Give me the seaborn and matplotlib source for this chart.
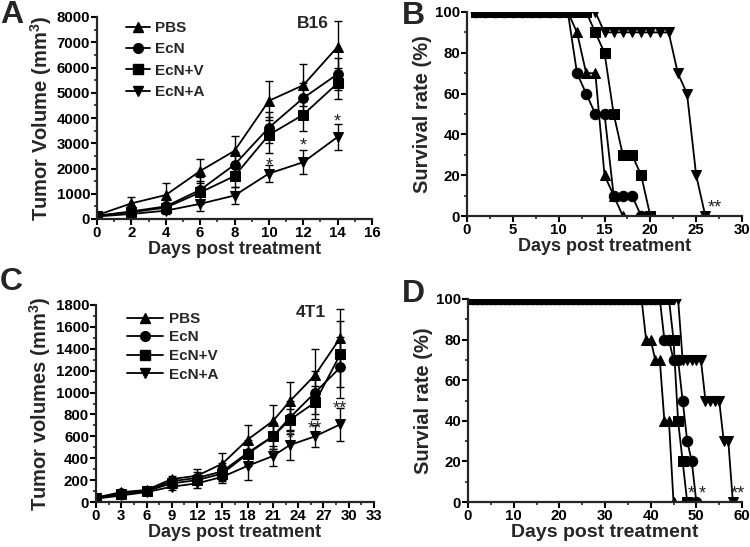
import pandas as pd
import seaborn as sns
import matplotlib.pyplot as plt
from matplotlib.lines import Line2D
from matplotlib.ticker import MultipleLocator

groups = ['PBS', 'EcN', 'EcN+V', 'EcN+A']
marks = {'PBS': '^', 'EcN': 'o', 'EcN+V': 's', 'EcN+A': 'v'}

# A: B16 tumor volume (mm3)
a_days = [0, 2, 4, 6, 8, 10, 12, 14]
a_pbs = [150, 620, 950, 1900, 2700, 4680, 5300, 6820]
a_pbs_err = [60, 240, 460, 460, 580, 770, 840, 1030]
a_ecn = [130, 300, 500, 1150, 2150, 3620, 4790, 5740]
a_ecn_err = [50, 120, 250, 500, 500, 600, 600, 620]
a_ecnv = [120, 270, 450, 1050, 1700, 3330, 4130, 5380]
a_ecnv_err = [40, 100, 200, 450, 450, 700, 650, 620]
a_ecna = [100, 200, 330, 600, 930, 1800, 2250, 3250]
a_ecna_err = [40, 100, 150, 300, 350, 320, 470, 500]
a_star_x = [10, 12, 14]
a_star_y = [2100, 2900, 3850]
a_star_txt = ['*', '*', '*']

# B: B16 survival (%)
b_pbs_days = [1, 2, 3, 4, 5, 6, 7, 8, 9, 10, 11, 12, 13, 14, 15, 16, 17]
b_pbs = [100, 100, 100, 100, 100, 100, 100, 100, 100, 100, 100, 90, 70, 70, 20, 10, 0]
b_ecn_days = [1, 2, 3, 4, 5, 6, 7, 8, 9, 10, 11, 12, 13, 14, 15, 16, 17, 18, 19]
b_ecn = [100, 100, 100, 100, 100, 100, 100, 100, 100, 100, 100, 70, 60, 50, 50, 10, 10, 10, 0]
b_ecnv_days = [1, 2, 3, 4, 5, 6, 7, 8, 9, 10, 11, 12, 13, 14, 15, 16, 17, 18, 19, 20]
b_ecnv = [100, 100, 100, 100, 100, 100, 100, 100, 100, 100, 100, 100, 100, 90, 80, 50, 30, 30, 20, 0]
b_ecna_days = [1, 2, 3, 4, 5, 6, 7, 8, 9, 10, 11, 12, 13, 14, 15, 16, 17, 18, 19, 20,
               21, 22, 23, 24, 25, 26]
b_ecna = [100, 100, 100, 100, 100, 100, 100, 100, 100, 100, 100, 100, 100, 100, 90, 90, 90, 90, 90, 90,
          90, 90, 70, 60, 20, 0]
b_star_x = [27.0]
b_star_y = [4]
b_star_txt = ['**']

# C: 4T1 tumor volume (mm3)
c_days = [0, 3, 6, 9, 12, 15, 18, 21, 23, 26, 29]
c_pbs = [40, 90, 110, 210, 240, 350, 570, 740, 920, 1160, 1500]
c_pbs_err = [10, 20, 20, 25, 60, 100, 135, 150, 175, 240, 260]
c_ecn = [40, 80, 100, 190, 220, 280, 450, 600, 770, 1000, 1230]
c_ecn_err = [10, 20, 20, 30, 50, 80, 120, 120, 150, 200, 280]
c_ecnv = [40, 70, 100, 170, 200, 260, 440, 600, 750, 910, 1350]
c_ecnv_err = [10, 20, 20, 30, 40, 70, 100, 120, 100, 150, 300]
c_ecna = [30, 60, 90, 140, 170, 230, 330, 420, 520, 600, 710]
c_ecna_err = [10, 20, 20, 30, 40, 60, 130, 90, 140, 100, 150]
c_star_x = [21, 23, 26, 29]
c_star_y = [430, 580, 670, 850]
c_star_txt = ['*', '*', '**', '**']

# D: 4T1 survival (%)
d_pbs_days = [0, 1, 2, 3, 4, 5, 6, 7, 8, 9, 10, 11, 12, 13, 14, 15, 16, 17, 18, 19,
              20, 21, 22, 23, 24, 25, 26, 27, 28, 29, 30, 31, 32, 33, 34, 35, 36, 37, 38, 39,
              40, 41, 42, 43, 44, 45]
d_pbs = [100, 100, 100, 100, 100, 100, 100, 100, 100, 100, 100, 100, 100, 100, 100, 100, 100, 100, 100, 100,
         100, 100, 100, 100, 100, 100, 100, 100, 100, 100, 100, 100, 100, 100, 100, 100, 100, 100, 100, 80,
         80, 70, 70, 40, 40, 0]
d_ecn_days = [0, 1, 2, 3, 4, 5, 6, 7, 8, 9, 10, 11, 12, 13, 14, 15, 16, 17, 18, 19,
              20, 21, 22, 23, 24, 25, 26, 27, 28, 29, 30, 31, 32, 33, 34, 35, 36, 37, 38, 39,
              40, 41, 42, 43, 44, 45, 46, 47, 48, 49, 50]
d_ecn = [100, 100, 100, 100, 100, 100, 100, 100, 100, 100, 100, 100, 100, 100, 100, 100, 100, 100, 100, 100,
         100, 100, 100, 100, 100, 100, 100, 100, 100, 100, 100, 100, 100, 100, 100, 100, 100, 100, 100, 100,
         100, 100, 100, 80, 80, 70, 70, 50, 30, 20, 0]
d_ecnv_days = [0, 1, 2, 3, 4, 5, 6, 7, 8, 9, 10, 11, 12, 13, 14, 15, 16, 17, 18, 19,
               20, 21, 22, 23, 24, 25, 26, 27, 28, 29, 30, 31, 32, 33, 34, 35, 36, 37, 38, 39,
               40, 41, 42, 43, 44, 45, 46, 47, 48]
d_ecnv = [100, 100, 100, 100, 100, 100, 100, 100, 100, 100, 100, 100, 100, 100, 100, 100, 100, 100, 100, 100,
          100, 100, 100, 100, 100, 100, 100, 100, 100, 100, 100, 100, 100, 100, 100, 100, 100, 100, 100, 100,
          100, 100, 100, 100, 100, 80, 40, 20, 0]
d_ecna_days = [0, 1, 2, 3, 4, 5, 6, 7, 8, 9, 10, 11, 12, 13, 14, 15, 16, 17, 18, 19,
               20, 21, 22, 23, 24, 25, 26, 27, 28, 29, 30, 31, 32, 33, 34, 35, 36, 37, 38, 39,
               40, 41, 42, 43, 44, 45, 46, 47, 48, 49, 50, 51, 52, 53, 54, 55, 56, 57, 58]
d_ecna = [100, 100, 100, 100, 100, 100, 100, 100, 100, 100, 100, 100, 100, 100, 100, 100, 100, 100, 100, 100,
          100, 100, 100, 100, 100, 100, 100, 100, 100, 100, 100, 100, 100, 100, 100, 100, 100, 100, 100, 100,
          100, 100, 100, 100, 100, 100, 100, 70, 70, 70, 70, 70, 50, 50, 50, 50, 30, 30, 0]
d_star_x = [48.8, 51.3, 59.0]
d_star_y = [4, 4, 4]
d_star_txt = ['*', '*', '**']


def growth_df(days, vals, errs):
    rows = []
    for g, v, e in zip(groups, vals, errs):
        for d, y, s in zip(days, v, e):
            rows.append((g, d, y, s))
    return pd.DataFrame(rows, columns=['group', 'day', 'value', 'err'])


def surv_df(days_list, vals):
    rows = []
    for g, days, v in zip(groups, days_list, vals):
        for d, y in zip(days, v):
            rows.append((g, d, y))
    return pd.DataFrame(rows, columns=['group', 'day', 'value'])


sns.set_theme(style='ticks')
plt.rcParams['font.family'] = ['Liberation Sans', 'DejaVu Sans']
plt.rcParams['font.weight'] = 'bold'
plt.rcParams['axes.labelweight'] = 'bold'
plt.rcParams['mathtext.fontset'] = 'custom'
plt.rcParams['mathtext.rm'] = 'Liberation Sans:bold'
plt.rcParams['mathtext.it'] = 'Liberation Sans:bold'
plt.rcParams['mathtext.bf'] = 'Liberation Sans:bold'

W, H = 750, 547
fig = plt.figure(figsize=(7.5, 5.47), dpi=100)


def add_ax(left, top, right, bottom):
    return fig.add_axes([left / W, 1 - bottom / H, (right - left) / W, (bottom - top) / H])


pal = {g: 'black' for g in groups}


def draw_lines(ax, df, ms):
    sns.lineplot(data=df, x='day', y='value', hue='group', style='group', markers=marks,
                 dashes=False, palette=pal, markersize=ms, linewidth=1.3, markeredgecolor='black',
                 errorbar=None, legend=False, ax=ax, zorder=3)


def draw_growth(ax, df):
    for g in groups:
        sub = df[df.group == g]
        ax.errorbar(sub.day, sub.value, yerr=sub.err, fmt='none', ecolor='black',
                    elinewidth=1, capsize=3, capthick=1, zorder=2)
    draw_lines(ax, df, 7)


def style_ax(ax, xmax, xmaj, xmin, ymax, ymaj, ymin, xlabel, ylabel, xls=13):
    ax.set_xlim(0, xmax)
    ax.set_ylim(0, ymax)
    ax.xaxis.set_major_locator(MultipleLocator(xmaj))
    ax.xaxis.set_minor_locator(MultipleLocator(xmin))
    ax.yaxis.set_major_locator(MultipleLocator(ymaj))
    ax.yaxis.set_minor_locator(MultipleLocator(ymin))
    sns.despine(ax=ax)
    for s in ['left', 'bottom']:
        ax.spines[s].set_linewidth(1.6)
        ax.spines[s].set_zorder(4)
    ax.tick_params(which='major', length=4, width=1.5, labelsize=10.8, pad=1, colors='black')
    ax.tick_params(which='minor', length=2.5, width=1.2)
    ax.set_xlabel(xlabel, fontsize=xls, labelpad=1)
    ax.set_ylabel(ylabel, fontsize=14.5, labelpad=2)


def add_stars(ax, xs, ys, txt):
    for x, y, t in zip(xs, ys, txt):
        ax.text(x, y, t, ha='center', va='center', fontsize=13, fontweight='normal', color='#222222')


def add_legend(ax, x, y, hl, pad, sp):
    handles = [Line2D([], [], color='black', lw=1.3, marker=marks[g], markersize=7) for g in groups]
    ax.legend(handles, groups, loc='upper left', bbox_to_anchor=(x, y), frameon=False,
              fontsize=11, handlelength=hl, handletextpad=pad, labelspacing=sp,
              borderpad=0, borderaxespad=0)


# Panel A
axA = add_ax(97, 17, 372, 219)
dfA = growth_df(a_days, [a_pbs, a_ecn, a_ecnv, a_ecna],
                [a_pbs_err, a_ecn_err, a_ecnv_err, a_ecna_err])
draw_growth(axA, dfA)
style_ax(axA, 16, 2, 1, 8000, 1000, 500, 'Days post treatment', r'Tumor Volume (mm$^3$)')
add_stars(axA, a_star_x, a_star_y, a_star_txt)
add_legend(axA, 0.105, 0.98, 1.6, 0.3, 0.48)
axA.text(0.785, 0.97, 'B16', transform=axA.transAxes, ha='center', va='center', fontsize=12.5)

# Panel B
axB = add_ax(467, 12, 742, 216)
dfB = surv_df([b_pbs_days, b_ecn_days, b_ecnv_days, b_ecna_days], [b_pbs, b_ecn, b_ecnv, b_ecna])
draw_lines(axB, dfB, 7.5)
style_ax(axB, 30, 5, 2.5, 100, 20, 10, 'Days post treatment', 'Survival rate (%)')
add_stars(axB, b_star_x, b_star_y, b_star_txt)

# Panel C
axC = add_ax(96, 305, 374, 502)
dfC = growth_df(c_days, [c_pbs, c_ecn, c_ecnv, c_ecna],
                [c_pbs_err, c_ecn_err, c_ecnv_err, c_ecna_err])
draw_growth(axC, dfC)
style_ax(axC, 33, 3, 1.5, 1800, 200, 100, 'Days post treatment', r'Tumor volumes (mm$^3$)')
add_stars(axC, c_star_x, c_star_y, c_star_txt)
add_legend(axC, 0.11, 0.965, 2.4, 0.35, 0.3)
axC.text(0.773, 0.96, '4T1', transform=axC.transAxes, ha='center', va='center', fontsize=12.5)

# Panel D
axD = add_ax(468, 299, 742, 502)
dfD = surv_df([d_pbs_days, d_ecn_days, d_ecnv_days, d_ecna_days], [d_pbs, d_ecn, d_ecnv, d_ecna])
draw_lines(axD, dfD, 7.5)
style_ax(axD, 60, 10, 5, 100, 20, 10, 'Days post treatment', 'Survial rate (%)', xls=14)
add_stars(axD, d_star_x, d_star_y, d_star_txt)

# panel letters
for lbl, x, y in [('A', 0, 0), ('B', 402, 1), ('C', 0, 267), ('D', 402, 279)]:
    fig.text(x / W, 1 - y / H, lbl, ha='left', va='top', fontsize=23, fontweight='bold')

fig.savefig('out.png', dpi=100)
